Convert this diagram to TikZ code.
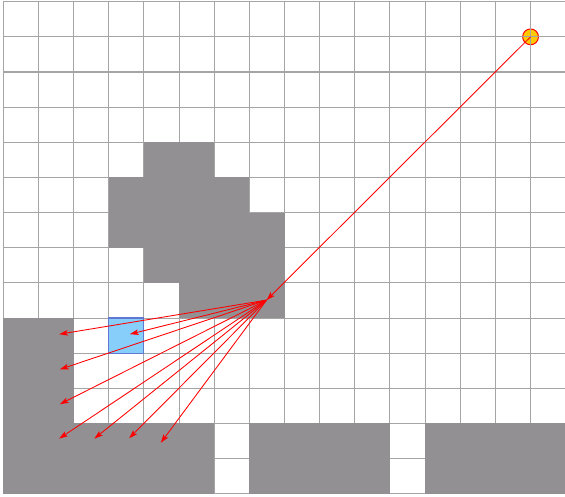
\documentclass[tikz,border=0pt]{standalone}
\usepackage{tikz}
\usetikzlibrary{arrows.meta,positioning}
\definecolor{wallgray}{RGB}{146,144,147}
\definecolor{gridgray}{RGB}{165,165,165}
\definecolor{cellblue}{RGB}{135,206,250}
\definecolor{edgeblue}{RGB}{96,120,210}
\definecolor{goalgold}{RGB}{255,200,0}
\tikzset{
  gridline/.style={draw=gridgray,line width=0.85pt},
  wallcell/.style={fill=wallgray},
  seencell/.style={fill=cellblue,draw=edgeblue,line width=0.9pt},
  goalnode/.style={circle,draw=red,fill=goalgold,line width=0.8pt,minimum size=0.45cm,inner sep=0pt},
  ray/.style={-{Stealth[length=7pt,width=4.5pt,inset=1.5pt]},color=red,line width=0.7pt}
}

\begin{document}
\begin{tikzpicture}[x=1cm,y=-1cm]
  \useasboundingbox[fill=white] (-0.094,-0.048) rectangle (15.98,14.09);
  \node[goalnode] (goal) at (15,1) {};
  \draw[gridline] (0,0) grid (16,14);
  \foreach \a/\b/\c/\d in {4/4/6/5,3/5/7/6,3/6/8/7,4/7/8/8,5/8/8/9,
    0/9/2/12,0/12/6/14,7/12/11/14,12/12/16/14}
    \fill[wallcell] (\a,\b) rectangle (\c,\d);
  \draw[seencell] (3,9) rectangle (4,10);
  \coordinate (hit) at (7.49,8.49);
  \foreach \n/\x/\y in {1/1.59/9.46,2/3.60/9.46,3/1.61/10.46,4/1.61/11.45,
    5/1.59/12.43,6/2.59/12.43,7/3.58/12.42,8/4.48/12.55}
    \coordinate (ray\n) at (\x,\y);
  \draw[ray] (goal.center) -- (hit);
  \foreach \n in {1,...,8} \draw[ray] (hit) -- (ray\n);
\end{tikzpicture}
\end{document}
